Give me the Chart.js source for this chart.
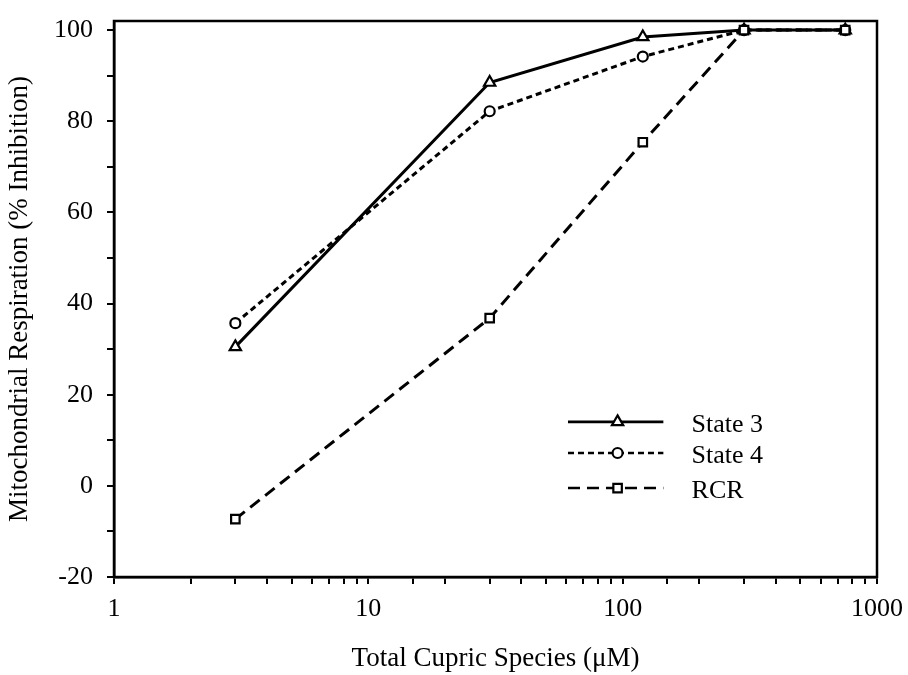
<!DOCTYPE html>
<html>
<head>
<meta charset="utf-8">
<script src="https://cdn.jsdelivr.net/npm/chart.js@4.4.1/dist/chart.umd.min.js"></script>
<style>
  html, body { margin: 0; padding: 0; background: #fff; }
  #wrap { width: 908px; height: 675px; position: relative; }
</style>
</head>
<body>
<div id="wrap"><canvas id="c" width="908" height="675"></canvas></div>
<script>
// ---- Data ----
const concentrations = [3, 30, 120, 300, 750];           // Total cupric species (µM)
const state3 = [30.5, 88.5, 98.5, 100, 100];
const state4 = [35.7, 82.2, 94.2, 100, 100];
const rcr    = [-7.3, 36.8, 75.4, 100, 100];
const seriesNames = ['State 3', 'State 4', 'RCR'];
const yTickLabels = { '-20': '-20', '0': '0', '20': '20', '40': '40', '60': '60', '80': '80', '100': '100' };
const xTickLabels = { '1': '1', '10': '10', '100': '100', '1000': '1000' };

const FONT = 'Liberation Serif, "Times New Roman", serif';

const styles = [
  { dash: [], pointStyle: 'triangle', radius: 6.5 },
  { dash: [6, 4], pointStyle: 'circle', radius: 5 },
  { dash: [12, 7], pointStyle: 'rect', radius: 6 }
];

function mk(vals, i, order) {
  return {
    label: seriesNames[i],
    data: concentrations.map((x, k) => ({ x: x, y: vals[k] })),
    borderColor: '#000',
    borderWidth: 3,
    borderDash: styles[i].dash,
    pointStyle: styles[i].pointStyle,
    pointRadius: styles[i].radius,
    pointBorderWidth: 2.2,
    pointBackgroundColor: '#fff',
    pointBorderColor: '#000',
    tension: 0,
    fill: false,
    order: order
  };
}

const framePlugin = {
  id: 'frame',
  afterDatasetsDraw(chart) {
    const { ctx, chartArea: a } = chart;
    ctx.save();
    ctx.strokeStyle = '#000';
    ctx.lineWidth = 2.5;
    ctx.strokeRect(a.left, a.top, a.right - a.left, a.bottom - a.top);
    ctx.restore();
  }
};

const legendPlugin = {
  id: 'innerLegend',
  afterDraw(chart) {
    const { ctx, chartArea: a } = chart;
    const w = a.right - a.left, h = a.bottom - a.top;
    const x0 = a.left + w * 0.595, x1 = a.left + w * 0.72, xm = a.left + w * 0.66;
    const xt = a.left + w * 0.757;
    const ys = [a.top + h * 0.721, a.top + h * 0.777, a.top + h * 0.840];
    ctx.save();
    chart.data.datasets.forEach((ds, i) => {
      const y = ys[i];
      ctx.strokeStyle = '#000';
      ctx.lineWidth = 2.6;
      ctx.setLineDash(ds.borderDash || []);
      ctx.beginPath();
      ctx.moveTo(x0, y);
      ctx.lineTo(x1, y);
      ctx.stroke();
      ctx.setLineDash([]);
      ctx.fillStyle = '#fff';
      ctx.lineWidth = 2.2;
      Chart.helpers.drawPoint(ctx, { pointStyle: ds.pointStyle, radius: ds.pointRadius, borderWidth: 2.2 }, xm, y);
      ctx.fillStyle = '#000';
      ctx.font = '26px ' + FONT;
      ctx.textAlign = 'left';
      ctx.textBaseline = 'middle';
      ctx.fillText(ds.label, xt, y + 3);
    });
    ctx.restore();
  }
};

new Chart(document.getElementById('c'), {
  type: 'line',
  data: {
    datasets: [mk(state3, 0, 2), mk(state4, 1, 1), mk(rcr, 2, 0)]
  },
  options: {
    responsive: false,
    animation: false,
    layout: { padding: { left: 0, right: 31, top: 21, bottom: 0 } },
    plugins: { legend: { display: false }, tooltip: { enabled: false } },
    scales: {
      x: {
        type: 'logarithmic',
        min: 1,
        max: 1000,
        afterFit(s) { s.height = 98; s.paddingLeft = 0; s.paddingRight = 0; },
        border: { display: true, color: '#000', width: 2.5 },
        grid: { display: true, drawOnChartArea: false, drawTicks: true, tickLength: 7, color: '#000', lineWidth: 2 },
        ticks: {
          autoSkip: false,
          maxRotation: 0,
          color: '#000',
          padding: 10,
          font: { family: FONT, size: 26 },
          callback(v) { return xTickLabels[String(v)] || ''; }
        },
        title: {
          display: true,
          text: 'Total Cupric Species (\u03bcM)',
          color: '#000',
          font: { family: FONT, size: 27 },
          padding: { top: 0, bottom: 0 }
        }
      },
      y: {
        type: 'linear',
        min: -20,
        max: 102,
        afterFit(s) { s.width = 114; s.paddingTop = 0; s.paddingBottom = 0; },
        border: { display: true, color: '#000', width: 2.5 },
        grid: { display: true, drawOnChartArea: false, drawTicks: true, tickLength: 7, color: '#000', lineWidth: 2 },
        ticks: {
          stepSize: 10,
          includeBounds: false,
          color: '#000',
          padding: 14,
          font: { family: FONT, size: 26 },
          callback(v) { return yTickLabels[String(v)] || ''; }
        },
        title: {
          display: true,
          text: 'Mitochondrial Respiration (% Inhibition)',
          color: '#000',
          font: { family: FONT, size: 27 },
          padding: { top: 4, bottom: 4 }
        }
      }
    }
  },
  plugins: [framePlugin, legendPlugin]
});
</script>
</body>
</html>
